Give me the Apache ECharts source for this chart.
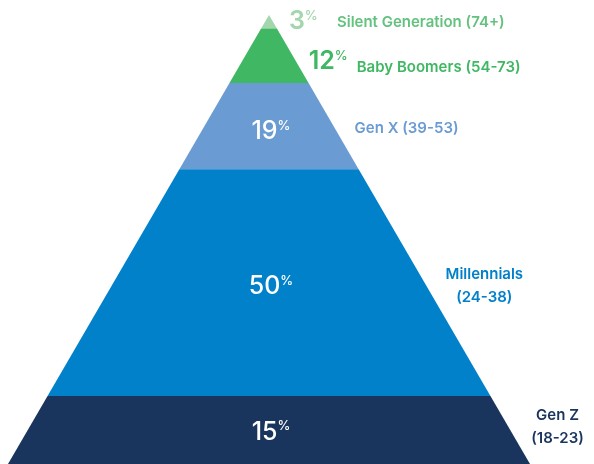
<!DOCTYPE html>
<html>
<head>
<meta charset="utf-8">
<script src="https://cdn.jsdelivr.net/npm/echarts@6/dist/echarts.min.js"></script>
<style>
  html, body { margin: 0; padding: 0; background: #fff; }
  #main { width: 594px; height: 464px; }
</style>
</head>
<body>
<div id="main"></div>
<script>
// data, top of pyramid first
var generations = ["Silent Generation (74+)", "Baby Boomers (54-73)", "Gen X (39-53)", "Millennials\n(24-38)", "Gen Z\n(18-23)"];
var shares = [3, 12, 19, 50, 15];

// styling
var layerColors = ["#a3d6ad", "#3fb763", "#6b9bd3", "#0181ca", "#1a355d"];
var pctColors = ["#a3d6ad", "#3fb763", "#ffffff", "#ffffff", "#ffffff"];
var labelColors = ["#64c27f", "#3fb763", "#6b9bd3", "#0181ca", "#1a355d"];
var valueDy = [0, 6, 5, 4, 2];   // small vertical nudges of the labels
var labelDy = [1, 12, 2, 3, -3];

var total = 0;
var seriesData = [];
for (var i = 0; i < shares.length; i++) {
  seriesData.push([total, total + shares[i], shares[i], i]);
  total += shares[i];
}

var FONT = "Inter";

function renderLayer(params, api) {
  var top = api.value(0), bottom = api.value(1), pct = api.value(2), idx = api.value(3);
  // half width grows linearly from the apex
  var pts = [
    api.coord([-top / total, top]),
    api.coord([top / total, top]),
    api.coord([bottom / total, bottom]),
    api.coord([-bottom / total, bottom])
  ];
  var mid = (top + bottom) / 2;
  var center = api.coord([0, mid]);
  var edge = api.coord([mid / total, mid]);
  var outside = pct < 15;
  var lines = generations[idx].split("\n");

  var valueText = {
    type: "text",
    style: {
      x: outside ? edge[0] + 16 : center[0] + 2,
      y: center[1] + valueDy[idx],
      text: "{num|" + pct + "}{sign|%}",
      align: outside ? "left" : "center",
      verticalAlign: "middle",
      rich: {
        num: { fontFamily: FONT, fontSize: 25, lineHeight: 26, fontWeight: outside ? 600 : 500, fill: pctColors[idx] },
        sign: { fontFamily: FONT, fontSize: 13, lineHeight: 13, fontWeight: 500, fill: pctColors[idx], verticalAlign: "top", padding: [1, 0, 0, 0] }
      }
    }
  };
  var nameText = {
    type: "text",
    style: {
      x: outside ? edge[0] + 64 : edge[0] + 21,
      y: center[1] + labelDy[idx],
      text: lines.map(function (s) { return "{lab|" + s + "}"; }).join("\n"),
      align: "left",
      verticalAlign: "middle",
      rich: {
        lab: { fontFamily: FONT, fontSize: 15, lineHeight: 23, fontWeight: 600, fill: labelColors[idx], align: "center" }
      }
    }
  };
  return {
    type: "group",
    children: [
      { type: "polygon", shape: { points: pts }, style: { fill: layerColors[idx] } },
      valueText,
      nameText
    ]
  };
}

var myChart = echarts.init(document.getElementById("main"));
myChart.setOption({
  animation: false,
  grid: { left: 8, right: 64, top: 15, bottom: 0 },
  xAxis: { type: "value", min: -1, max: 1, show: false },
  yAxis: { type: "value", min: 0, max: total, inverse: true, show: false },
  series: [{
    type: "custom",
    renderItem: renderLayer,
    data: seriesData,
    clip: false
  }]
});
</script>
</body>
</html>
